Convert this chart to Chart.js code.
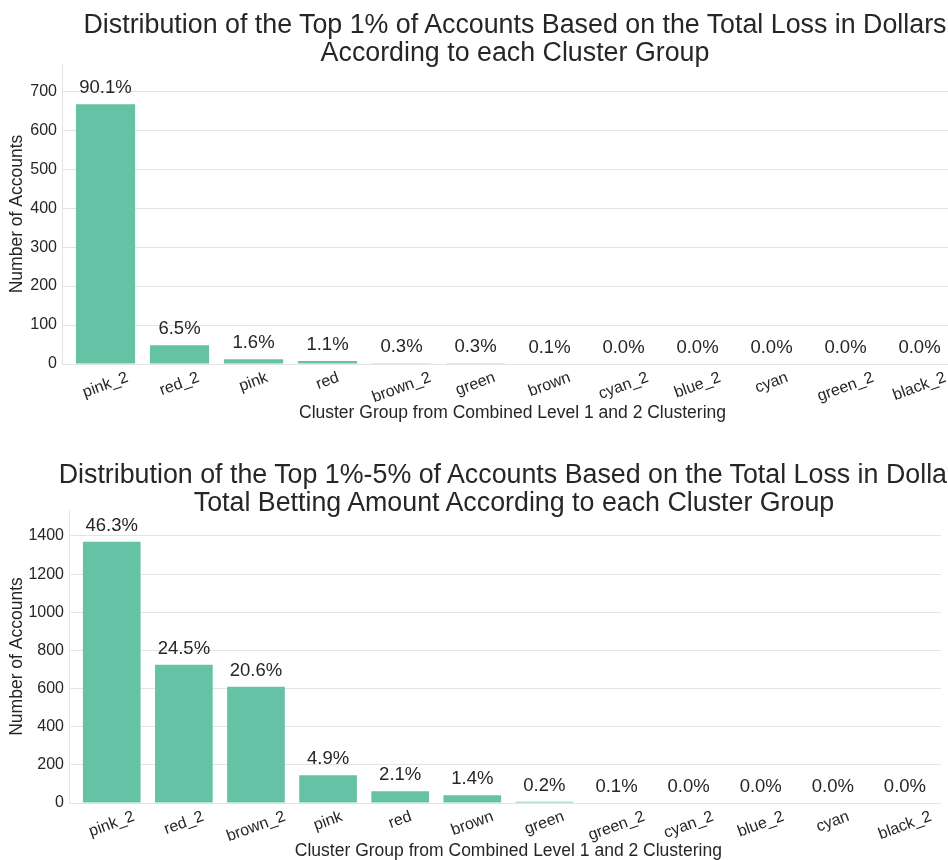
<!DOCTYPE html>
<html>
<head>
<meta charset="utf-8">
<script src="https://cdn.jsdelivr.net/npm/chart.js@4.4.1/dist/chart.umd.min.js"></script>
<style>
  html, body { margin: 0; padding: 0; background: #fff; width: 948px; height: 860px; overflow: hidden; }
  .wrap { position: absolute; left: 0; }
  .title {
    position: absolute; left: 0; text-align: center; white-space: nowrap;
    font-family: 'Liberation Sans', Arial, sans-serif; font-size: 26.8px; line-height: 28px; color: #262626;
  }
  canvas { display: block; }
</style>
</head>
<body>
<div class="wrap" style="top:0"><canvas id="top-chart" width="972" height="430"></canvas></div>
<div class="wrap" style="top:446px"><canvas id="bottom-chart" width="972" height="420"></canvas></div>
<div class="title" style="top:10px; width:1030px">Distribution of the Top 1% of Accounts Based on the Total Loss in Dollars<br>According to each Cluster Group</div>
<div class="title" style="top:460px; width:1028px">Distribution of the Top 1%-5% of Accounts Based on the Total Loss in Dollars<br>Total Betting Amount According to each Cluster Group</div>
<script>
// --- data ---
const topGroups   = ['pink_2', 'red_2', 'pink', 'red', 'brown_2', 'green', 'brown', 'cyan_2', 'blue_2', 'cyan', 'green_2', 'black_2'];
const topCounts   = [667, 48, 12, 8, 2, 2, 1, 0, 0, 0, 0, 0];
const topPercents = ['90.1%', '6.5%', '1.6%', '1.1%', '0.3%', '0.3%', '0.1%', '0.0%', '0.0%', '0.0%', '0.0%', '0.0%'];

const bottomGroups   = ['pink_2', 'red_2', 'brown_2', 'pink', 'red', 'brown', 'green', 'green_2', 'cyan_2', 'blue_2', 'cyan', 'black_2'];
const bottomCounts   = [1369, 725, 609, 145, 62, 41, 6, 3, 0, 0, 0, 0];
const bottomPercents = ['46.3%', '24.5%', '20.6%', '4.9%', '2.1%', '1.4%', '0.2%', '0.1%', '0.0%', '0.0%', '0.0%', '0.0%'];

const X_TITLE = 'Cluster Group from Combined Level 1 and 2 Clustering';
const Y_TITLE = 'Number of Accounts';

const FONT = "'Liberation Sans', Arial, sans-serif";
const TEXT = '#262626';
const GRID = '#e4e4e4';
const BAR  = '#66c2a5';

// percent labels above each bar
const barLabels = {
  id: 'barLabels',
  afterDatasetsDraw(chart, args, opts) {
    const { ctx } = chart;
    const meta = chart.getDatasetMeta(0);
    ctx.save();
    ctx.font = `${opts.size}px ${FONT}`;
    ctx.fillStyle = TEXT;
    ctx.textAlign = 'center';
    ctx.textBaseline = 'middle';
    meta.data.forEach((bar, i) => ctx.fillText(opts.labels[i], bar.x, bar.y - opts.offset));
    ctx.restore();
  },
};

// x tick labels, rotated about their centre (matplotlib style)
const slantTicks = {
  id: 'slantTicks',
  afterDraw(chart, args, opts) {
    const { ctx } = chart;
    const scale = chart.scales.x;
    const a = opts.angle * Math.PI / 180;
    ctx.save();
    ctx.font = `${opts.size}px ${FONT}`;
    ctx.fillStyle = TEXT;
    ctx.textAlign = 'center';
    ctx.textBaseline = 'middle';
    chart.data.labels.forEach((label, i) => {
      const w = ctx.measureText(label).width;
      const h = w * Math.sin(a) + opts.size * 1.15 * Math.cos(a);
      ctx.save();
      ctx.translate(scale.getPixelForTick(i), scale.top + opts.pad + h / 2);
      ctx.rotate(-a);
      ctx.fillText(label, 0, 0);
      ctx.restore();
    });
    ctx.restore();
  },
};

// left spine, sits a little left of the first category like seaborn
const spine = {
  id: 'spine',
  beforeDatasetsDraw(chart, args, opts) {
    const { ctx, chartArea } = chart;
    const x = Math.round(chartArea.left - opts.gap) + 0.5;
    ctx.save();
    ctx.strokeStyle = GRID;
    ctx.lineWidth = 1;
    ctx.beginPath();
    ctx.moveTo(x, chartArea.top);
    ctx.lineTo(x, chartArea.bottom);
    ctx.stroke();
    ctx.restore();
  },
};

function makeChart(id, labels, counts, percents, cfg) {
  return new Chart(document.getElementById(id), {
    type: 'bar',
    data: {
      labels,
      datasets: [{
        data: counts,
        backgroundColor: BAR,
        borderWidth: 0,
        barPercentage: 0.8,
        categoryPercentage: 1.0,
      }],
    },
    plugins: [barLabels, slantTicks, spine],
    options: {
      responsive: false,
      animation: false,
      layout: { padding: { top: 64, left: 0, right: cfg.padRight, bottom: 0 } },
      plugins: {
        legend: { display: false },
        tooltip: { enabled: false },
        title: { display: false },
        barLabels: { labels: percents, size: 18.5, offset: 16 },
        slantTicks: { angle: 20, size: 16, pad: 4.5 },
        spine: { gap: cfg.gap },
      },
      scales: {
        x: {
          ticks: { display: false },
          grid: { display: false },
          border: { display: false },
          title: {
            display: true,
            text: X_TITLE,
            color: TEXT,
            font: { family: FONT, size: 17.5 },
            padding: { top: 0, bottom: cfg.xTitlePad },
          },
          afterFit(scale) {
            scale.height = cfg.xHeight;
            scale.paddingLeft = 0;
            scale.paddingRight = 0;
          },
        },
        y: {
          min: 0,
          max: cfg.yMax,
          ticks: {
            stepSize: cfg.step,
            includeBounds: false,
            color: TEXT,
            font: { family: FONT, size: 16 },
            padding: 5,
            callback: (v) => String(v),
          },
          grid: { color: GRID, lineWidth: 1, drawTicks: true, tickLength: cfg.gap, tickColor: GRID },
          border: { display: false },
          title: {
            display: true,
            text: Y_TITLE,
            color: TEXT,
            font: { family: FONT, size: 17.5 },
            padding: { top: 7, bottom: 0 },
          },
          afterFit(scale) {
            scale.width = cfg.yWidth;
            scale.paddingTop = 0;
            scale.paddingBottom = 0;
          },
        },
      },
    },
  });
}

makeChart('top-chart', topGroups, topCounts, topPercents, {
  yMax: 770, step: 100, yWidth: 68.5, padRight: 15.5, xHeight: 66, xTitlePad: 6.5, gap: 6.5,
});
makeChart('bottom-chart', bottomGroups, bottomCounts, bottomPercents, {
  yMax: 1536, step: 200, yWidth: 75.7, padRight: 31, xHeight: 63, xTitlePad: 4.5, gap: 6.7,
});
</script>
</body>
</html>
